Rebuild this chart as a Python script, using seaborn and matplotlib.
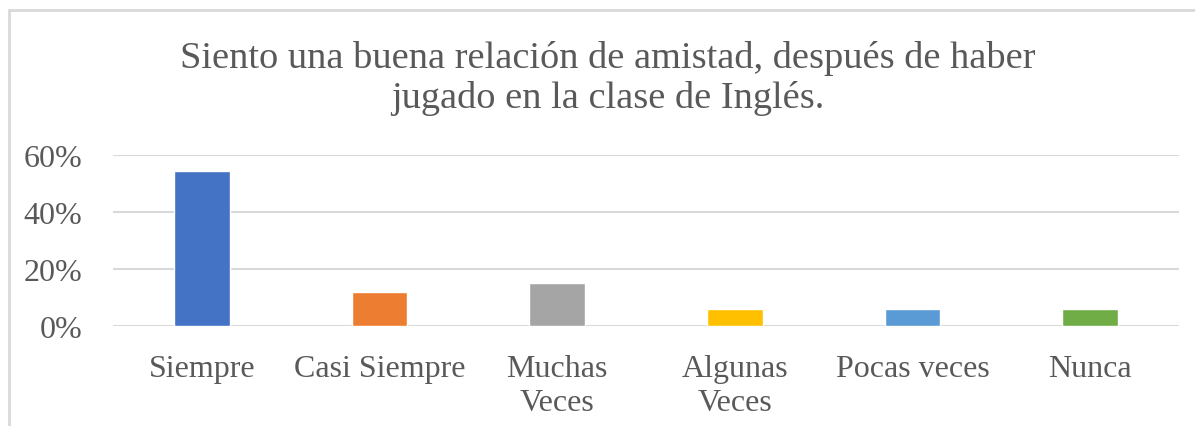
import matplotlib
matplotlib.use("Agg")
import matplotlib.pyplot as plt
import seaborn as sns
import pandas as pd
from matplotlib.lines import Line2D
from matplotlib.ticker import PercentFormatter

# data
categorias = ["Siempre", "Casi Siempre", "Muchas\nVeces", "Algunas\nVeces", "Pocas veces", "Nunca"]
porcentajes = [0.545, 0.121, 0.152, 0.061, 0.061, 0.061]
colores = ["#4472C4", "#ED7D31", "#A5A5A5", "#FFC000", "#5B9BD5", "#70AD47"]
titulo = "Siento una buena relación de amistad, después de haber\njugado en la clase de Inglés."

df = pd.DataFrame({"cat": categorias, "pct": porcentajes})

sns.set_style("white")
plt.rcParams["font.family"] = ["Liberation Serif", "DejaVu Serif"]
texto = "#595959"
grid = "#D9D9D9"

fig = plt.figure(figsize=(11.95, 4.27), dpi=100)
ax = fig.add_axes([113 / 1195, 1 - 327 / 427, (1179 - 113) / 1195, (327 - 156) / 427])

sns.barplot(data=df, x="cat", y="pct", hue="cat", palette=colores,
            width=0.315, legend=False, saturation=1, ax=ax)

ax.set_ylim(0, 0.6)
ax.set_yticks([0, 0.2, 0.4, 0.6])
ax.yaxis.set_major_formatter(PercentFormatter(1.0, decimals=0))
ax.set_xlim(-0.5, len(categorias) - 0.5)
ax.set_xlabel("")
ax.set_ylabel("")
ax.grid(axis="y", color=grid, linewidth=1.5)
ax.set_axisbelow(True)
for s in ax.spines.values():
    s.set_visible(False)
ax.tick_params(axis="both", length=0, colors=texto, labelsize=23)
ax.tick_params(axis="y", pad=22)
ax.tick_params(axis="x", pad=20)
for lab in ax.get_xticklabels():
    lab.set_linespacing(1.22)
    lab.set_verticalalignment("top")

fig.text(608 / 1195, 1 - 41 / 427, titulo, ha="center", va="top",
         fontsize=27.6, color=texto, linespacing=1.18)

# chart frame
fig.add_artist(Line2D([9 / 1195, 9 / 1195], [0, 1 - 11 / 427], color=grid, linewidth=2))
fig.add_artist(Line2D([9 / 1195, 1], [1 - 11 / 427, 1 - 11 / 427], color=grid, linewidth=2))

fig.savefig("out.png", dpi=100, facecolor="white")
